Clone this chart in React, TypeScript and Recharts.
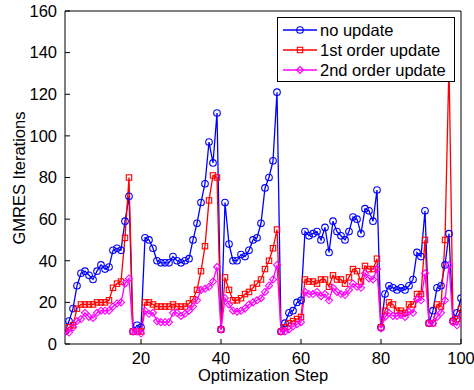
import React from 'react';
import { LineChart, Line, XAxis, YAxis, Legend } from 'recharts';

const steps: number[] = Array.from({ length: 100 }, (_, i) => i + 1);

const noUpdate = [
  6, 11, 17, 28, 34, 35, 33, 31, 35, 38,
  36, 37, 45, 46, 45, 59, 71, 6, 9, 8,
  51, 50, 46, 40, 39, 39, 39, 42, 40, 39,
  40, 41, 50, 58, 68, 77, 97, 87, 111, 7,
  68, 48, 40, 40, 43, 42, 45, 50, 51, 58,
  75, 80, 88, 121, 6, 10, 15, 16, 20, 21,
  54, 52, 53, 54, 50, 56, 44, 59, 54, 52,
  50, 54, 61, 60, 53, 65, 64, 59, 74, 8,
  24, 28, 27, 26, 27, 26, 28, 31, 44, 42,
  64, 10, 16, 27, 28, 38, 53, 11, 15, 22,
];

const firstOrder = [
  6, 8, 9, 17, 19, 19, 19, 19, 20, 20,
  20, 21, 27, 29, 30, 51, 80, 6, 6, 6,
  20, 20, 19, 18, 18, 18, 18, 19, 18, 18,
  18, 19.5, 21.5, 26, 35, 47, 69, 81, 80, 7,
  32, 26, 21, 21, 22, 24, 25, 27, 29, 31,
  36, 40, 46, 55, 6, 8, 10, 11, 12, 13,
  31, 30, 30, 29, 31, 31, 27.5, 33, 31, 31,
  29, 32, 36, 35, 30, 37.5, 36, 36, 41, 8,
  16, 20, 19, 16, 16, 15, 19, 19, 24, 24,
  50, 10, 10, 19, 18, 50, 135, 11, 12, 17,
];

const secondOrder = [
  6, 5.5, 8, 11, 12, 15, 13, 12.5, 15, 16,
  16, 16, 18, 19.5, 20, 29, 31.5, 6, 6, 5,
  16, 14.5, 15, 11, 10.5, 10.5, 10.5, 15, 15, 13.5,
  14.5, 16, 18, 21, 26, 26.5, 27.5, 30, 37, 7,
  22, 19, 16, 15.5, 16, 17, 19, 20, 21, 22,
  25, 28, 31, 38, 6, 6, 7, 8.5, 9.5, 10.5,
  25, 24, 24, 25, 23, 24, 21, 27, 25, 24,
  23.5, 26, 29, 27.5, 27, 34, 31.5, 31, 36, 7.5,
  13, 15, 13.5, 13.5, 14, 13, 15.5, 15, 21.5, 21,
  34, 10, 10, 13, 15, 21, 38, 10.5, 9, 13,
];

const xTicks = [20, 40, 60, 80, 100];
const yTicks = [0, 20, 40, 60, 80, 100, 120, 140, 160];

const seriesNames = ['no update', '1st order update', '2nd order update'];
const BLUE = '#0000ff';
const RED = '#ff0000';
const MAGENTA = '#ff00ff';

const data = steps.map((s, i) => ({
  step: s,
  noUpdate: noUpdate[i],
  firstOrder: firstOrder[i],
  secondOrder: secondOrder[i],
}));

const FONT = '"Liberation Sans", Arial, Helvetica, sans-serif';
const FS = 16.5;

const CircleDot = (props: any) => {
  const { cx, cy, index } = props;
  if (cx == null || cy == null) return <g key={`c${index}`} />;
  return <circle key={`c${index}`} cx={cx} cy={cy} r={3.3} fill="none" stroke={BLUE} strokeWidth={1.1} />;
};
const SquareDot = (props: any) => {
  const { cx, cy, index } = props;
  if (cx == null || cy == null) return <g key={`s${index}`} />;
  return <rect key={`s${index}`} x={cx - 2.7} y={cy - 2.7} width={5.4} height={5.4} fill="none" stroke={RED} strokeWidth={1.1} />;
};
const DiamondDot = (props: any) => {
  const { cx, cy, index } = props;
  if (cx == null || cy == null) return <g key={`d${index}`} />;
  const r = 3.5;
  return (
    <polygon
      key={`d${index}`}
      points={`${cx},${cy - r} ${cx + r},${cy} ${cx},${cy + r} ${cx - r},${cy}`}
      fill="none"
      stroke={MAGENTA}
      strokeWidth={1.1}
    />
  );
};

const renderLegend = () => {
  const rows = [
    { name: seriesNames[0], color: BLUE, kind: 'circle' },
    { name: seriesNames[1], color: RED, kind: 'square' },
    { name: seriesNames[2], color: MAGENTA, kind: 'diamond' },
  ];
  return (
    <svg width={178} height={65} style={{ display: 'block' }}>
      <rect x={0.5} y={0.5} width={177} height={64} fill="#fff" stroke="#000" strokeWidth={1} />
      {rows.map((r, i) => {
        const cy = 13 + i * 20;
        const mx = 23;
        let marker: React.ReactNode = null;
        if (r.kind === 'circle') marker = <circle cx={mx} cy={cy} r={3.3} fill="none" stroke={r.color} strokeWidth={1.1} />;
        if (r.kind === 'square') marker = <rect x={mx - 2.7} y={cy - 2.7} width={5.4} height={5.4} fill="none" stroke={r.color} strokeWidth={1.1} />;
        if (r.kind === 'diamond') marker = <polygon points={`${mx},${cy - 3.5} ${mx + 3.5},${cy} ${mx},${cy + 3.5} ${mx - 3.5},${cy}`} fill="none" stroke={r.color} strokeWidth={1.1} />;
        return (
          <g key={r.name}>
            <line x1={6} x2={40} y1={cy} y2={cy} stroke={r.color} strokeWidth={1.3} />
            {marker}
            <text x={43} y={cy} dominantBaseline="central" fontFamily={FONT} fontSize={FS} fill="#000">
              {r.name}
            </text>
          </g>
        );
      })}
    </svg>
  );
};

export default function App() {
  return (
    <div style={{ position: 'fixed', left: 0, top: 0, width: 474, height: 390, background: '#fff' }}>
      <LineChart width={474} height={390} data={data} margin={{ top: 10, right: 12, bottom: 0, left: 0 }}>
        <XAxis
          xAxisId="b"
          dataKey="step"
          type="number"
          domain={[1, 100]}
          ticks={xTicks}
          allowDataOverflow
          height={46}
          stroke="#000"
          axisLine={{ stroke: '#000', strokeWidth: 1 }}
          tickLine={{ stroke: '#000' }}
          tickSize={-5}
          tickMargin={13}
          tick={{ fill: '#000', fontSize: FS, fontFamily: FONT }}
          label={{
            content: () => (
              <text x={263} y={375} textAnchor="middle" dominantBaseline="central" fontFamily={FONT} fontSize={FS} fill="#000">
                Optimization Step
              </text>
            ),
          }}
        />
        <XAxis
          xAxisId="t"
          dataKey="step"
          type="number"
          orientation="top"
          domain={[1, 100]}
          ticks={xTicks}
          allowDataOverflow
          height={1}
          stroke="#000"
          axisLine={{ stroke: '#000', strokeWidth: 1 }}
          tickLine={{ stroke: '#000' }}
          tickSize={-5}
          tick={false}
        />
        <YAxis
          yAxisId="l"
          domain={[0, 160]}
          ticks={yTicks}
          allowDataOverflow
          width={65}
          stroke="#000"
          axisLine={{ stroke: '#000', strokeWidth: 1 }}
          tickLine={{ stroke: '#000' }}
          tickSize={-5}
          tickMargin={13}
          tick={{ fill: '#000', fontSize: FS, fontFamily: FONT }}
          label={{
            content: () => (
              <text
                x={19}
                y={178}
                textAnchor="middle"
                dominantBaseline="central"
                fontFamily={FONT}
                fontSize={FS}
                fill="#000"
                transform="rotate(-90, 19, 178)"
              >
                GMRES Iterations
              </text>
            ),
          }}
        />
        <YAxis
          yAxisId="r"
          orientation="right"
          domain={[0, 160]}
          ticks={yTicks}
          allowDataOverflow
          width={1}
          stroke="#000"
          axisLine={{ stroke: '#000', strokeWidth: 1 }}
          tickLine={{ stroke: '#000' }}
          tickSize={-5}
          tick={false}
        />
        <Line
          xAxisId="b"
          yAxisId="l"
          type="linear"
          dataKey="noUpdate"
          name={seriesNames[0]}
          stroke={BLUE}
          strokeWidth={1.3}
          dot={CircleDot}
          activeDot={false}
          isAnimationActive={false}
        />
        <Line
          xAxisId="b"
          yAxisId="l"
          type="linear"
          dataKey="firstOrder"
          name={seriesNames[1]}
          stroke={RED}
          strokeWidth={1.3}
          dot={SquareDot}
          activeDot={false}
          isAnimationActive={false}
        />
        <Line
          xAxisId="b"
          yAxisId="l"
          type="linear"
          dataKey="secondOrder"
          name={seriesNames[2]}
          stroke={MAGENTA}
          strokeWidth={1.3}
          dot={DiamondDot}
          activeDot={false}
          isAnimationActive={false}
        />
        <Legend
          layout="vertical"
          align="center"
          verticalAlign="middle"
          content={renderLegend}
          wrapperStyle={{ position: 'absolute', left: 277, top: 17, width: 178, height: 65, right: 'auto', bottom: 'auto', margin: 0 }}
        />
      </LineChart>
    </div>
  );
}
